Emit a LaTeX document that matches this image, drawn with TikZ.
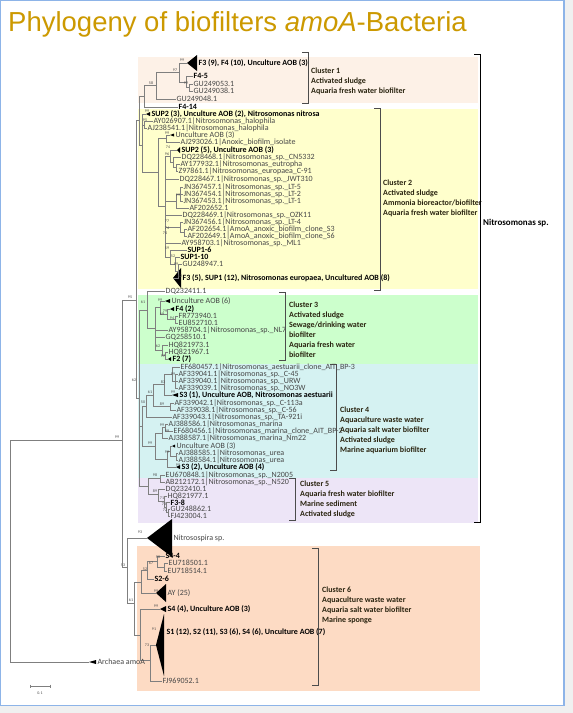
\documentclass[tikz,border=0pt]{standalone}
\usepackage{fontspec}
\setmainfont{Carlito}
\newfontfamily\titlefont{Liberation Sans}
\definecolor{titlegold}{HTML}{CC9900}
\definecolor{cAfill}{HTML}{FDF1E7}
\definecolor{cBfill}{HTML}{FFFFCC}
\definecolor{cCfill}{HTML}{CCFFCC}
\definecolor{cDfill}{HTML}{D5F2F2}
\definecolor{cEfill}{HTML}{EDE5F7}
\definecolor{cFfill}{HTML}{FDDBC4}
\definecolor{leafgray}{HTML}{474747}
\definecolor{branchgray}{HTML}{7F7F7F}
\definecolor{cltextcol}{HTML}{2A2410}
\definecolor{framecol}{HTML}{8DB4E8}
\tikzset{
  leaf/.style={anchor=west, inner sep=0.4pt, font=\fontsize{8}{8}\selectfont, text=leafgray},
  leafb/.style={leaf, font=\fontsize{8}{8}\selectfont\bfseries, text=black},
  br/.style={draw=branchgray, line width=0.5pt},
  bs/.style={inner sep=0pt, font=\fontsize{4}{4}\selectfont, text=leafgray},
  cltext/.style={anchor=west, align=left, inner sep=0pt, font=\fontsize{8}{10}\selectfont\bfseries, text=cltextcol},
  brk/.style={draw=gray!60!black, line width=0.5pt},
}
% leaf: coordinate + text
\newcommand{\leaf}[5][leaf]{\coordinate (#2) at (#3,#4); \node[#1] (#2t) at (#2) {#5};}
% collapsed clade: tip, base x, half height, text
\newcommand{\clps}[7][leafb]{\coordinate (#2) at (#3,#4);
  \fill[black] (#2) -- (#5,{#4-#6}) -- (#5,{#4+#6}) -- cycle;
  \node[#1] (#2t) at (#5+1,#4) {#7};}
\newcommand{\kids}[2]{\foreach \k in {#2} {\draw[br] (#1) |- (\k);}}
\newcommand{\bs}[4]{\node[bs] (#1) at (#2,#3) {#4};}

\begin{document}
\begin{tikzpicture}[x=1pt,y=-1pt]
\useasboundingbox (0,0) rectangle (573,713);
\fill[gray!12] (0,0) rectangle (573,713);
\fill[white] (0,0) rectangle (564,706);
\draw[framecol, line width=1pt] (0.5,0.5) -- (563.5,0.5) -- (563.5,705.5) -- (0.5,705.5) -- cycle;
\draw[framecol, line width=2pt] (564,0) -- (564,706);

\node[anchor=base west, inner sep=0pt, font=\titlefont\fontsize{27.5}{30}\selectfont, text=titlegold] (title) at (8,31)
  {Phylogeny of biofilters \textit{amoA}-Bacteria};

% cluster boxes
\fill[cAfill] (138,57) rectangle (478,103);
\fill[cBfill] (138,109) rectangle (478,289);
\fill[cCfill] (138,295) rectangle (478,364);
\fill[cDfill] (138,364) rectangle (478,478);
\fill[cEfill] (138,478) rectangle (478,523);
\fill[cFfill] (137,546) rectangle (480,691);

% cluster 1
\clps{t1a}{187}{63}{197}{8}{F3 (9), F4 (10), Unculture AOB (3)}
\leaf[leafb]{l1b}{193}{76}{F4-5}
\leaf{l1c}{193}{84}{GU249053.1}
\leaf{l1d}{193}{91}{GU249038.1}
\leaf{l1e}{176}{99}{GU249048.1}
\leaf[leafb]{l1f}{178}{107}{F4-14}
\coordinate (n1cd) at (189,87.5); \kids{n1cd}{l1c,l1d}
\coordinate (n1bcd) at (186,82); \kids{n1bcd}{l1b,n1cd}
\coordinate (n1a) at (179,72); \kids{n1a}{t1a,n1bcd}
\coordinate (n1e) at (156,85); \kids{n1e}{n1a,l1e}
\coordinate (n1) at (144,96); \kids{n1}{n1e,l1f}
\bs{b1a}{182}{60}{99} \bs{b1b}{175}{70}{97} \bs{b1c}{186}{83}{99} \bs{b1d}{151}{83}{58}

% cluster 2
\clps{t2a}{146}{114}{150}{2}{SUP2 (3), Unculture AOB (2), Nitrosomonas nitrosa}
\leaf{l2b}{153}{121.5}{AY026907.1|Nitrosomonas\_halophila}
\leaf{l2c}{147}{128.5}{AJ238541.1|Nitrosomonas\_halophila}
\clps[leaf]{t2d}{170}{135}{174}{1.5}{Unculture AOB (3)}
\leaf{l2e}{180}{142}{AJ293026.1|Anoxic\_biofilm\_isolate}
\clps{t2f}{177}{150}{180}{3}{SUP2 (5), Unculture AOB (3)}
\leaf{l2g}{181}{157}{DQ228468.1|Nitrosomonas\_sp.\_CN5332}
\leaf{l2h}{180}{164}{AY177932.1|Nitrosomonas\_eutropha}
\leaf{l2i}{178}{171}{Z97861.1|Nitrosomonas\_europaea\_C-91}
\leaf{l2j}{179}{179}{DQ228467.1|Nitrosomonas\_sp.\_JWT310}
\leaf{l2k}{183}{187}{JN367457.1|Nitrosomonas\_sp.\_LT-5}
\leaf{l2l}{183}{194}{JN367454.1|Nitrosomonas\_sp.\_LT-2}
\leaf{l2m}{183}{201}{JN367453.1|Nitrosomonas\_sp.\_LT-1}
\leaf{l2n}{189}{208}{AF202652.1}
\leaf{l2o}{182}{215}{DQ228469.1|Nitrosomonas\_sp.\_OZK11}
\leaf{l2p}{183}{222}{JN367456.1|Nitrosomonas\_sp.\_LT-4}
\leaf{l2q}{187}{229}{AF202654.1|AmoA\_anoxic\_biofilm\_clone\_S3}
\leaf{l2r}{187}{236}{AF202649.1|AmoA\_anoxic\_biofilm\_clone\_S6}
\leaf{l2s}{181}{243}{AY958703.1|Nitrosomonas\_sp.\_ML1}
\leaf[leafb]{l2t}{187}{250}{SUP1-6}
\leaf[leafb]{l2u}{180}{257}{SUP1-10}
\leaf{l2v}{182}{264}{GU248947.1}
\clps{t2w}{173}{278}{181}{10}{F3 (5), SUP1 (12), Nitrosomonas europaea, Uncultured AOB (8)}
\coordinate (n2bc) at (144,125); \kids{n2bc}{l2b,l2c}
\coordinate (n2de) at (166,138.5); \kids{n2de}{t2d,l2e}
\coordinate (n2hi) at (176,167.5); \kids{n2hi}{l2h,l2i}
\coordinate (n2gi) at (173,162); \kids{n2gi}{l2g,n2hi}
\coordinate (n2f) at (170,156); \kids{n2f}{t2f,n2gi}
\coordinate (n2km) at (180,194); \kids{n2km}{l2k,l2l,l2m}
\coordinate (n2kn) at (176,201); \kids{n2kn}{n2km,l2n}
\coordinate (n2qr) at (184,232.5); \kids{n2qr}{l2q,l2r}
\coordinate (n2pr) at (180,227); \kids{n2pr}{l2p,n2qr}
\coordinate (n2vw) at (178,271); \kids{n2vw}{l2v,t2w}
\coordinate (n2uw) at (175,264); \kids{n2uw}{l2u,n2vw}
\coordinate (n2tw) at (170,257); \kids{n2tw}{l2t,n2uw}
\coordinate (n2S) at (165,206); \kids{n2S}{n2f,l2j,n2kn,l2o,n2pr,l2s,n2tw}
\coordinate (n2dS) at (158,172); \kids{n2dS}{n2de,n2S}
\coordinate (n2) at (142,145); \kids{n2}{t2a,n2bc,n2dS}
\bs{b2a}{147}{111}{99} \bs{b2b}{145}{120}{95} \bs{b2c}{167}{133}{99}
\bs{b2d}{168}{147}{74} \bs{b2e}{167}{154}{96} \bs{b2f}{178}{195}{99}
\bs{b2g}{167}{221}{77} \bs{b2h}{167}{228}{74} \bs{b2i}{165}{233}{74}
\bs{b2j}{167}{248}{59} \bs{b2k}{173}{256}{52} \bs{b2l}{176}{264}{99} \bs{b2m}{180}{276}{62}

% cluster 3
\leaf{l3a}{165}{291}{DQ232411.1}
\clps[leaf]{t3b}{165}{301}{170}{2}{Unculture AOB (6)}
\clps{t3c}{170}{309}{174}{2}{F4 (2)}
\leaf{l3d}{178}{316}{FR773940.1}
\leaf{l3e}{178}{323}{EU852710.1}
\leaf{l3f}{168}{330}{AY958704.1|Nitrosomonas\_sp.\_NL7}
\leaf{l3g}{165}{337}{GQ258510.1}
\leaf{l3h}{168}{345}{HQ821973.1}
\leaf{l3i}{168}{352}{HQ821967.1}
\clps{t3j}{168}{359}{171}{2}{F2 (7)}
\coordinate (n3de) at (175,319.5); \kids{n3de}{l3d,l3e}
\coordinate (n3ce) at (167,314); \kids{n3ce}{t3c,n3de}
\coordinate (n3be) at (160,307); \kids{n3be}{t3b,n3ce}
\coordinate (n3ij) at (165,355.5); \kids{n3ij}{l3i,t3j}
\coordinate (n3hj) at (162,350); \kids{n3hj}{l3h,n3ij}
\coordinate (n3S) at (155,328); \kids{n3S}{n3be,l3f,l3g,n3hj}
\coordinate (n3) at (147,310); \kids{n3}{l3a,n3S}
\bs{b3a}{160}{300}{99} \bs{b3b}{143}{302}{61} \bs{b3c}{165}{311}{79}
\bs{b3d}{162}{314}{69} \bs{b3e}{172}{318}{94} \bs{b3f}{158}{346}{62} \bs{b3g}{163}{356}{97}

% cluster 4
\leaf{l4a}{180}{367}{EF680457.1|Nitrosomonas\_aestuarii\_clone\_AIT\_BP-3}
\leaf{l4b}{178}{374}{AF339041.1|Nitrosomonas\_sp.\_C-45}
\leaf{l4c}{178}{381}{AF339040.1|Nitrosomonas\_sp.\_URW}
\leaf{l4d}{178}{388}{AF339039.1|Nitrosomonas\_sp.\_NO3W}
\clps{t4e}{172}{395}{178}{2}{S3 (1), Unculture AOB, Nitrosomonas aestuarii}
\leaf{l4f}{174}{403}{AF339042.1|Nitrosomonas\_sp.\_C-113a}
\leaf{l4g}{176}{410}{AF339038.1|Nitrosomonas\_sp.\_C-56}
\leaf{l4h}{172}{417}{AF339043.1|Nitrosomonas\_sp.\_TA-921i}
\leaf{l4i}{168}{424}{AJ388586.1|Nitrosomonas\_marina}
\leaf{l4j}{173}{431}{EF680456.1|Nitrosomonas\_marina\_clone\_AIT\_BP-2}
\leaf{l4k}{168}{438}{AJ388587.1|Nitrosomonas\_marina\_Nm22}
\clps[leaf]{t4l}{172}{446}{175}{1.5}{Unculture AOB (3)}
\leaf{l4m}{178}{453}{AJ388585.1|Nitrosomonas\_urea}
\leaf{l4n}{178}{460}{AJ388584.1|Nitrosomonas\_urea}
\clps{t4o}{176}{467}{180}{2}{S3 (2), Unculture AOB (4)}
\coordinate (n4bd) at (175,381); \kids{n4bd}{l4b,l4c,l4d}
\coordinate (n4ad) at (172,374); \kids{n4ad}{l4a,n4bd}
\coordinate (n4ae) at (164,384.5); \kids{n4ae}{n4ad,t4e}
\coordinate (n4fg) at (170,406.5); \kids{n4fg}{l4f,l4g}
\coordinate (n4ag) at (153,395); \kids{n4ag}{n4ae,n4fg}
\coordinate (n4ah) at (146,406); \kids{n4ah}{n4ag,l4h}
\coordinate (n4ij) at (165,427.5); \kids{n4ij}{l4i,l4j}
\coordinate (n4ik) at (162,433); \kids{n4ik}{n4ij,l4k}
\coordinate (n4mn) at (176,456.5); \kids{n4mn}{l4m,l4n}
\coordinate (n4ln) at (170,451); \kids{n4ln}{t4l,n4mn}
\coordinate (n4lo) at (167,459); \kids{n4lo}{n4ln,t4o}
\coordinate (n4io) at (155,446); \kids{n4io}{n4ik,n4lo}
\coordinate (n4) at (142,426); \kids{n4}{n4ah,n4io}
\bs{b4a}{173}{374}{99} \bs{b4b}{163}{382}{83} \bs{b4c}{173}{392}{99}
\bs{b4d}{150}{392}{61} \bs{b4e}{162}{404}{89} \bs{b4f}{143}{402}{50}
\bs{b4g}{134}{380}{62} \bs{b4h}{162}{425}{99} \bs{b4i}{167}{431}{99}
\bs{b4j}{150}{443}{99} \bs{b4k}{167}{452}{99} \bs{b4l}{178}{465}{99}

% cluster 5
\leaf{l5a}{165}{475}{EU670848.1|Nitrosomonas\_sp.\_N2005}
\leaf{l5b}{165}{482}{AB212172.1|Nitrosomonas\_sp.\_N520}
\leaf{l5c}{165}{489}{DQ232410.1}
\leaf{l5d}{167}{496}{HQ821977.1}
\leaf[leafb]{l5e}{170}{502.5}{F3-8}
\leaf{l5f}{170}{509}{GU248862.1}
\leaf{l5g}{170}{516}{FJ423004.1}
\coordinate (n5ab) at (160,478.5); \kids{n5ab}{l5a,l5b}
\coordinate (n5fg) at (168,512.5); \kids{n5fg}{l5f,l5g}
\coordinate (n5eg) at (166,507); \kids{n5eg}{l5e,n5fg}
\coordinate (n5dg) at (164,501); \kids{n5dg}{l5d,n5eg}
\coordinate (n5cg) at (158,494); \kids{n5cg}{l5c,n5dg}
\coordinate (n5) at (148,486); \kids{n5}{n5ab,n5cg}
\bs{b5a}{155}{475}{98} \bs{b5b}{155}{491}{89} \bs{b5c}{162}{498}{71}
\bs{b5d}{164}{504}{73} \bs{b5e}{165}{510}{72}

% Nitrosomonas backbone
\coordinate (n12) at (139,120); \kids{n12}{n1,n2}
\coordinate (n35) at (139,398); \kids{n35}{n3,n4,n5}
\coordinate (nNm) at (136,300); \kids{nNm}{n12,n35}
\bs{bNm}{130}{297}{95}

% Nitrosospira and cluster 6 join
\clps[leaf]{t7}{147}{538}{172}{19}{Nitrosospira sp.}
\bs{b7}{140}{532}{93}

% cluster 6
\leaf[leafb]{l6a}{165}{556}{S4-4}
\leaf{l6b}{168}{563}{EU718501.1}
\leaf{l6c}{167}{571}{EU718514.1}
\leaf[leafb]{l6d}{154}{579}{S2-6}
\clps[leaf]{t6e}{156}{593}{166}{9}{AY (25)}
\clps{t6f}{160}{609}{166}{3}{S4 (4), Unculture AOB (3)}
\coordinate (t6g) at (156,645);
\fill[black] (t6g) -- (164,614) -- (164,676) -- cycle;
\node[leafb] (t6gt) at (166,632) {S1 (12), S2 (11), S3 (6), S4 (6), Unculture AOB (7)};
\leaf{l6h}{162}{681}{FJ969052.1}
\coordinate (n6bc) at (164,567); \kids{n6bc}{l6b,l6c}
\coordinate (n6ac) at (157,561.5); \kids{n6ac}{l6a,n6bc}
\coordinate (n6ad) at (147,570); \kids{n6ad}{n6ac,l6d}
\coordinate (n6ae) at (141,582); \kids{n6ae}{n6ad,t6e}
\coordinate (n6gh) at (150,660); \kids{n6gh}{t6g,l6h}
\coordinate (n6fh) at (140,635); \kids{n6fh}{t6f,n6gh}
\coordinate (n6) at (134,603); \kids{n6}{n6ae,n6fh}
\bs{b6a}{158}{557}{90} \bs{b6b}{151}{563}{67} \bs{b6c}{145}{569}{52}
\bs{b6d}{156}{591}{99} \bs{b6e}{156}{606}{99} \bs{b6f}{154}{629}{91}
\bs{b6g}{147}{645}{73} \bs{b6h}{131}{600}{61}

% root and outgroup
\coordinate (n53) at (127,567); \kids{n53}{t7,n6}
\bs{b53}{123}{565}{53}
\coordinate (nX) at (122,440); \kids{nX}{nNm,n53}
\bs{bX}{117}{437}{99}
\clps[leaf]{t8}{89}{662}{96}{2}{Archaea amoA}
\coordinate (nR) at (10,550); \kids{nR}{nX,t8}

% scale bar
\coordinate (sbA) at (30,686); \coordinate (sbB) at (50,686);
\draw[br] (sbA) -- (sbB);
\draw[br] (sbA) ++(0,-1.5) -- ++(0,3);
\draw[br] (sbB) ++(0,-1.5) -- ++(0,3);
\node[bs] (sbT) at (40,693) {0.1};

% brackets and cluster labels
\draw[brk] (302,52) -- (308,52) -- (308,103) -- (302,103);
\node[cltext] (c1) at (311,81) {Cluster 1\\Activated sludge\\Aquaria fresh water biofilter};
\draw[brk] (374,108) -- (380,108) -- (380,290) -- (374,290);
\node[cltext] (c2) at (383,198) {Cluster 2\\Activated sludge\\Ammonia bioreactor/biofilter\\Aquaria fresh water biofilter};
\draw[brk] (279,292) -- (285,292) -- (285,360) -- (279,360);
\node[cltext] (c3) at (289,330) {Cluster 3\\Activated sludge\\Sewage/drinking water\\biofilter\\Aquaria fresh water\\biofilter};
\draw[brk] (330,364) -- (336,364) -- (336,470) -- (330,470);
\node[cltext] (c4) at (340,430) {Cluster 4\\Aquaculture waste water\\Aquaria salt water biofilter\\Activated sludge\\Marine aquarium biofilter};
\draw[brk] (289,478) -- (295,478) -- (295,520) -- (289,520);
\node[cltext] (c5) at (300,499) {Cluster 5\\Aquaria fresh water biofilter\\Marine sediment\\Activated sludge};
\draw[brk] (312,548) -- (318,548) -- (318,685) -- (312,685);
\node[cltext] (c6) at (322,605) {Cluster 6\\Aquaculture waste water\\Aquaria salt water biofilter\\Marine sponge};
\draw[black, line width=0.8pt] (474,54) -- (480,54) -- (480,522) -- (474,522);
\node[cltext, text=black, font=\fontsize{9}{10}\selectfont\bfseries] (nmsp) at (483,223) {Nitrosomonas sp.};
\end{tikzpicture}
\end{document}
